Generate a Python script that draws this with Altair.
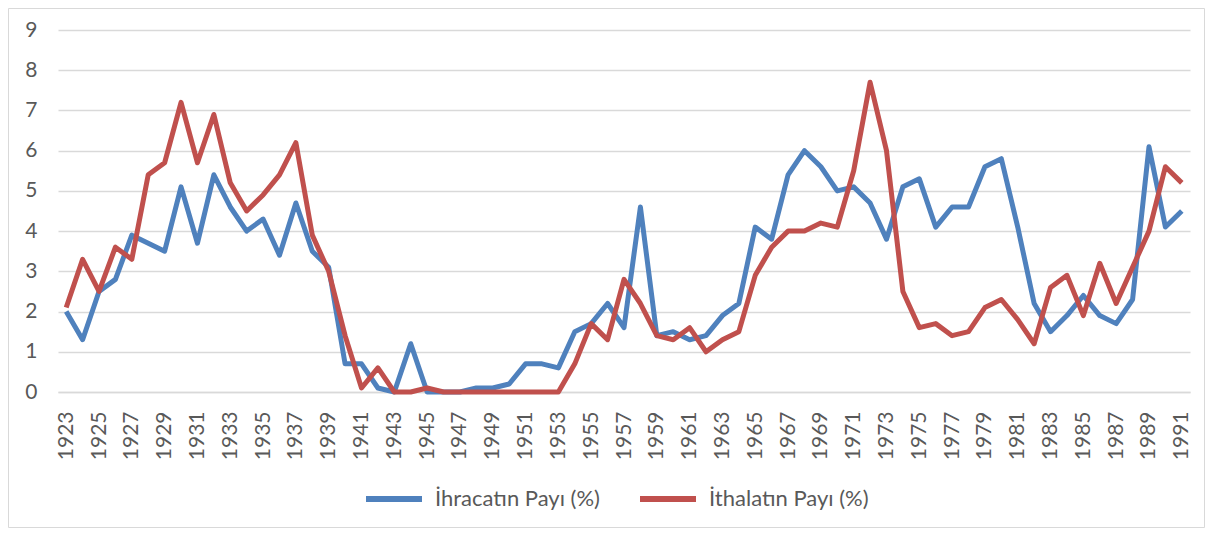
import altair as alt
import pandas as pd

years = list(range(1923, 1992))

ihracat = [2.0, 1.3, 2.5, 2.8, 3.9, 3.7, 3.5, 5.1, 3.7, 5.4,
           4.6, 4.0, 4.3, 3.4, 4.7, 3.5, 3.1, 0.7, 0.7, 0.1,
           0.0, 1.2, 0.0, 0.0, 0.0, 0.1, 0.1, 0.2, 0.7, 0.7,
           0.6, 1.5, 1.7, 2.2, 1.6, 4.6, 1.4, 1.5, 1.3, 1.4,
           1.9, 2.2, 4.1, 3.8, 5.4, 6.0, 5.6, 5.0, 5.1, 4.7,
           3.8, 5.1, 5.3, 4.1, 4.6, 4.6, 5.6, 5.8, 4.1, 2.2,
           1.5, 1.9, 2.4, 1.9, 1.7, 2.3, 6.1, 4.1, 4.5]

ithalat = [2.1, 3.3, 2.5, 3.6, 3.3, 5.4, 5.7, 7.2, 5.7, 6.9,
           5.2, 4.5, 4.9, 5.4, 6.2, 3.9, 3.0, 1.4, 0.1, 0.6,
           0.0, 0.0, 0.1, 0.0, 0.0, 0.0, 0.0, 0.0, 0.0, 0.0,
           0.0, 0.7, 1.7, 1.3, 2.8, 2.2, 1.4, 1.3, 1.6, 1.0,
           1.3, 1.5, 2.9, 3.6, 4.0, 4.0, 4.2, 4.1, 5.5, 7.7,
           6.0, 2.5, 1.6, 1.7, 1.4, 1.5, 2.1, 2.3, 1.8, 1.2,
           2.6, 2.9, 1.9, 3.2, 2.2, 3.1, 4.0, 5.6, 5.2]

series_names = ["İhracatın Payı (%)", "İthalatın Payı (%)"]
series_colors = ["#4F81BD", "#C0504D"]

df = pd.concat([
    pd.DataFrame({"Yıl": years, "Değer": ihracat, "Seri": series_names[0]}),
    pd.DataFrame({"Yıl": years, "Değer": ithalat, "Seri": series_names[1]}),
])

FONT = "Lato"
W, H = 1132, 362
PAD = {"left": 50, "top": 22, "right": 15, "bottom": 136}

lines = alt.Chart(df).mark_line(strokeWidth=5, strokeJoin="round").encode(
    x=alt.X("Yıl:O",
            scale=alt.Scale(paddingInner=0, paddingOuter=0.5),
            axis=alt.Axis(title=None, labelAngle=-90, labelAlign="right",
                          labelBaseline="middle", labelPadding=19,
                          labelFontSize=21, labelColor="#595959",
                          labelFont=FONT, ticks=False, domain=True,
                          domainColor="#D9D9D9", domainWidth=1.5,
                          labelExpr="(datum.value - 1923) % 2 == 0 ? datum.label : ''",
                          labelOverlap=False)),
    y=alt.Y("Değer:Q",
            scale=alt.Scale(domain=[0, 9], nice=False),
            axis=alt.Axis(title=None, values=list(range(0, 10)),
                          labelFontSize=21, labelColor="#595959",
                          labelFont=FONT, ticks=False, domain=False,
                          gridColor="#D9D9D9", gridWidth=1.5,
                          labelPadding=21)),
    color=alt.Color("Seri:N",
                    scale=alt.Scale(domain=series_names, range=series_colors),
                    legend=alt.Legend(title=None, orient="none",
                                      legendX=305, legendY=438,
                                      direction="horizontal", columns=2,
                                      columnPadding=28, padding=0,
                                      symbolType="stroke", symbolSize=3136,
                                      symbolStrokeWidth=6,
                                      labelFontSize=22, labelColor="#595959",
                                      labelFont=FONT, labelOffset=10,
                                      labelLimit=400)),
    order=alt.Order("Yıl:O"),
)

frame = alt.Chart(pd.DataFrame({"k": [0]})).mark_rect(
    fill=None, stroke="#D9D9D9", strokeWidth=1
).encode(
    x=alt.value(-PAD["left"] + 0.5),
    x2=alt.value(W + PAD["right"] - 0.5),
    y=alt.value(-PAD["top"] + 0.5),
    y2=alt.value(H + PAD["bottom"] - 0.5),
)

chart = alt.layer(frame, lines).properties(
    width=W, height=H,
    autosize=alt.AutoSizeParams(type="none"),
    padding=PAD,
).configure_view(stroke=None)

chart.save("out.html", embed_options={"renderer": "svg", "actions": False})
